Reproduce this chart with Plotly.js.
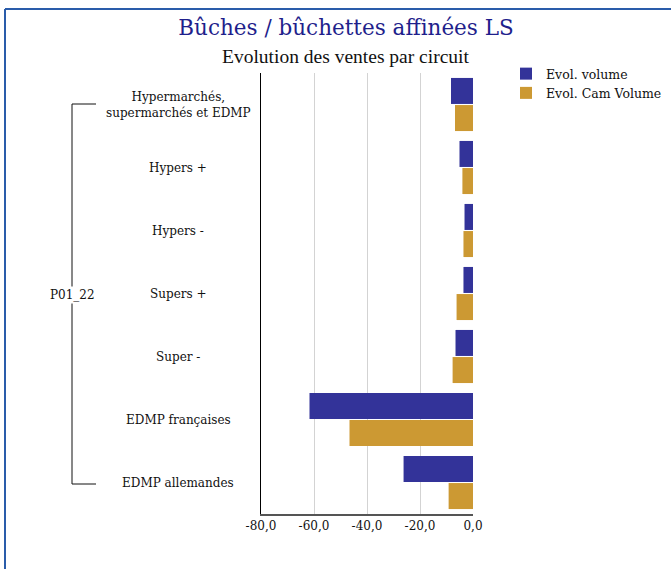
<!DOCTYPE html>
<html>
<head>
<meta charset="utf-8">
<script src="https://cdn.plot.ly/plotly-3.0.1.min.js"></script>
<style>body{margin:0;padding:0;background:#fff}</style>
</head>
<body>
<div id="chart" style="width:671px;height:569px"></div>
<script>
const categories = [
  "Hypermarchés,<br>supermarchés et EDMP",
  "Hypers +",
  "Hypers -",
  "Supers +",
  "Super -",
  "EDMP françaises",
  "EDMP allemandes"
];
const evolVolume = [-8.3, -5.1, -3.2, -3.6, -6.6, -61.7, -26.2];
const evolCamVolume = [-6.8, -4.0, -3.6, -6.2, -7.7, -46.6, -9.2];
const seriesNames = ["Evol. volume", "Evol. Cam Volume"];
const tickVals = [-80, -60, -40, -20, 0];
const tickText = ["-80,0", "-60,0", "-40,0", "-20,0", "0,0"];
const groupLabel = "P01_22";
const titleText = "Bûches / bûchettes affinées LS";
const subtitleText = "Evolution des ventes par circuit";

const W = 671, H = 569;
const T = 73, B = 55;
const plotLeft = 261, plotRight = 473;
const ph = H - T - B;
const px = x => x / W;
const py = y => (H - B - y) / ph;

const serif = "DejaVu Serif, Liberation Serif, serif";

const traces = [
  {type: "bar", orientation: "h", name: seriesNames[0], y: categories, x: evolVolume,
   marker: {color: "#333399"}, hoverinfo: "x"},
  {type: "bar", orientation: "h", name: seriesNames[1], y: categories, x: evolCamVolume,
   marker: {color: "#CC9933"}, hoverinfo: "x"}
];

const annotations = categories.map(c => ({
  xref: "paper", yref: "y", x: px(178), y: c, text: c, showarrow: false,
  xanchor: "center", yanchor: "middle", align: "center",
  font: {family: serif, size: 12, color: "#111"}
}));
annotations.push({
  xref: "paper", yref: "paper", x: px(72), y: py(295), text: groupLabel, showarrow: false,
  xanchor: "center", yanchor: "middle", bgcolor: "#fff",
  font: {family: serif, size: 12, color: "#111"}
});
annotations.push({
  xref: "paper", yref: "paper", x: px(346), y: py(56), text: subtitleText, showarrow: false,
  xanchor: "center", yanchor: "middle",
  font: {family: "Liberation Serif, serif", size: 19.5, color: "#111"}
});

const borderColor = "#2a5caa";
const shapes = [
  {type: "line", xref: "paper", yref: "paper", x0: px(5), x1: px(5), y0: py(575), y1: py(9), line: {color: borderColor, width: 2}},
  {type: "line", xref: "paper", yref: "paper", x0: px(5), x1: px(680), y0: py(9), y1: py(9), line: {color: borderColor, width: 2}},
  {type: "line", xref: "paper", yref: "paper", x0: px(72), x1: px(72), y0: py(104), y1: py(484), line: {color: "#111", width: 1}},
  {type: "line", xref: "paper", yref: "paper", x0: px(72), x1: px(96), y0: py(104), y1: py(104), line: {color: "#111", width: 1}},
  {type: "line", xref: "paper", yref: "paper", x0: px(72), x1: px(96), y0: py(484), y1: py(484), line: {color: "#111", width: 1}}
];

const layout = {
  width: W, height: H,
  margin: {l: 0, r: 0, t: T, b: B, pad: 0},
  paper_bgcolor: "#fff", plot_bgcolor: "#fff",
  title: {text: titleText, xref: "container", yref: "container", x: 346 / W, y: 1 - 27 / H,
          xanchor: "center", yanchor: "middle",
          font: {family: serif, size: 21.5, color: "#1f1f8c"}},
  barmode: "group", bargap: 0.14, bargroupgap: 0.04,
  showlegend: true,
  legend: {x: px(506), y: py(59), xanchor: "left", yanchor: "top", bgcolor: "rgba(0,0,0,0)",
           font: {family: serif, size: 12.5, color: "#111"}, tracegroupgap: 0, itemwidth: 30},
  xaxis: {domain: [plotLeft / W, plotRight / W], range: [-80, 0], tickvals: tickVals, ticktext: tickText, showgrid: true,
          gridcolor: "#d3d3d3", gridwidth: 1, zeroline: false, showline: true,
          linecolor: "#555", linewidth: 2, ticks: "", fixedrange: true,
          tickfont: {family: serif, size: 12, color: "#111"}},
  yaxis: {type: "category", autorange: "reversed", showticklabels: false, showgrid: false,
          zeroline: false, showline: true, linecolor: "#000", linewidth: 1.5, ticks: "", fixedrange: true},
  annotations: annotations,
  shapes: shapes
};

Plotly.newPlot("chart", traces, layout, {displayModeBar: false, staticPlot: true});
</script>
</body>
</html>
